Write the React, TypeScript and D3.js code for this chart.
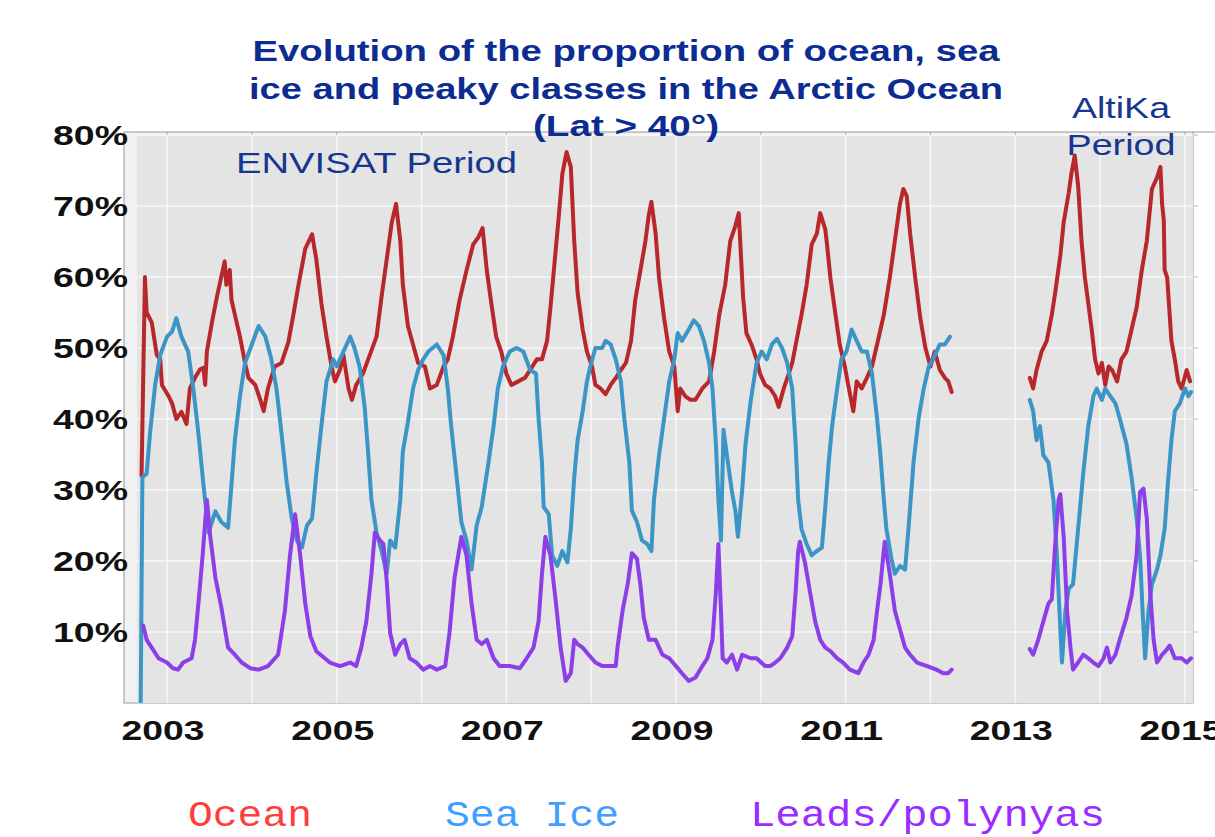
import React from 'react';
import * as d3 from 'd3';

// year (decimal) / percent
const oceanEnvisat: [number, number][] = [
  [2002.70, 32], [2002.74, 60], [2002.76, 55], [2002.82, 53.6], [2002.88, 49], [2002.92, 48.4], [2002.94, 44.8],
  [2003.02, 43.2], [2003.06, 42.2], [2003.11, 40], [2003.17, 41], [2003.23, 39.3], [2003.27, 44.3], [2003.33, 45.8],
  [2003.39, 47], [2003.43, 47.2], [2003.45, 44.8], [2003.47, 49.5], [2003.53, 53.6], [2003.59, 57.3], [2003.68, 62.2],
  [2003.70, 58.9], [2003.74, 61], [2003.76, 56.8], [2003.80, 54.7], [2003.86, 51.6], [2003.92, 47.9], [2003.96, 45.8],
  [2004.04, 44.8], [2004.10, 42.7], [2004.14, 41.1], [2004.19, 44.3], [2004.27, 47.4], [2004.35, 47.9], [2004.43, 50.8],
  [2004.49, 54.7], [2004.55, 58.9], [2004.63, 64], [2004.71, 66], [2004.76, 62.5], [2004.82, 56.3], [2004.88, 51.6],
  [2004.94, 47.4], [2004.98, 45.3], [2005.04, 47], [2005.08, 49], [2005.14, 44.3], [2005.18, 42.7], [2005.23, 44.8],
  [2005.31, 46.4], [2005.39, 49], [2005.47, 51.6], [2005.53, 57.3], [2005.59, 62.5], [2005.65, 67.7], [2005.70, 70.3],
  [2005.75, 65.1], [2005.78, 58.9], [2005.84, 53.1], [2005.90, 50.5], [2005.96, 47.9], [2006.04, 47.4], [2006.10, 44.3],
  [2006.18, 44.8], [2006.26, 47.4], [2006.31, 48.4], [2006.37, 51.6], [2006.45, 56.8], [2006.53, 60.9], [2006.61, 64.6],
  [2006.67, 65.6], [2006.72, 66.9], [2006.77, 60.9], [2006.83, 55.7], [2006.88, 51.6], [2006.94, 49.5], [2007.00, 46.4],
  [2007.06, 44.8], [2007.14, 45.3], [2007.22, 45.8], [2007.28, 46.9], [2007.36, 48.4], [2007.42, 48.4], [2007.48, 51],
  [2007.52, 55.7], [2007.56, 60.9], [2007.62, 68.8], [2007.66, 74.5], [2007.71, 77.6], [2007.76, 75.5], [2007.80, 65.1],
  [2007.84, 57.8], [2007.90, 52.6], [2007.95, 49.5], [2008.01, 47.4], [2008.05, 44.8], [2008.11, 44.3], [2008.17, 43.5],
  [2008.23, 44.8], [2008.29, 45.8], [2008.35, 46.9], [2008.41, 47.9], [2008.47, 51], [2008.52, 56.8], [2008.58, 60.9],
  [2008.64, 65.1], [2008.68, 68.8], [2008.71, 70.6], [2008.76, 66.1], [2008.80, 59.9], [2008.86, 54.2], [2008.92, 49.5],
  [2008.98, 47.4], [2009.02, 41.1], [2009.05, 44.3], [2009.11, 43.2], [2009.17, 42.7], [2009.23, 42.7], [2009.31, 44.3],
  [2009.39, 45.3], [2009.45, 49.5], [2009.51, 54.7], [2009.58, 58.9], [2009.64, 65.1], [2009.70, 67.2], [2009.74, 69],
  [2009.79, 57.3], [2009.83, 52.1], [2009.89, 50.5], [2009.95, 48.4], [2009.99, 46.4], [2010.05, 44.8], [2010.11, 44.3],
  [2010.17, 43.2], [2010.21, 41.7], [2010.27, 44.3], [2010.33, 46.4], [2010.37, 47.9], [2010.42, 51], [2010.48, 54.7],
  [2010.54, 58.9], [2010.60, 64.6], [2010.66, 66.1], [2010.70, 69], [2010.76, 66.7], [2010.78, 64.6], [2010.82, 59.9],
  [2010.88, 54.7], [2010.93, 50.5], [2010.99, 47.4], [2011.03, 44.8], [2011.09, 41.1], [2011.13, 45.3], [2011.19, 44.3],
  [2011.25, 45.8], [2011.31, 47.4], [2011.37, 50.5], [2011.45, 54.7], [2011.52, 59.9], [2011.58, 65.1], [2011.64, 70.3],
  [2011.68, 72.4], [2011.72, 71.4], [2011.76, 66.1], [2011.82, 59.9], [2011.88, 54.2], [2011.94, 50], [2012.00, 47.4],
  [2012.05, 49.5], [2012.11, 46.9], [2012.17, 45.8], [2012.21, 45.3], [2012.25, 43.8],
];

const oceanAltika: [number, number][] = [
  [2013.17, 45.8], [2013.21, 44.3], [2013.25, 46.9], [2013.31, 49.5], [2013.37, 51], [2013.43, 54.7], [2013.47, 57.8],
  [2013.53, 63], [2013.57, 67.7], [2013.63, 71.9], [2013.66, 74.5], [2013.70, 77.1], [2013.74, 72.9], [2013.78, 65.1],
  [2013.82, 59.9], [2013.86, 56.3], [2013.90, 52.6], [2013.94, 48.4], [2013.98, 46.4], [2014.02, 47.9], [2014.06, 44.8],
  [2014.10, 47.4], [2014.14, 46.9], [2014.20, 45.3], [2014.25, 48.4], [2014.31, 49.5], [2014.37, 52.6], [2014.43, 55.7],
  [2014.49, 60.9], [2014.55, 65.1], [2014.61, 72.4], [2014.67, 74], [2014.71, 75.5], [2014.73, 70.3], [2014.75, 68],
  [2014.76, 61], [2014.79, 59.9], [2014.84, 51], [2014.88, 48.4], [2014.92, 45.3], [2014.96, 44.3], [2015.02, 46.9],
  [2015.06, 45.3],
];

const seaIceEnvisat: [number, number][] = [
  [2002.69, 0], [2002.71, 31.8], [2002.76, 32.3], [2002.80, 38], [2002.86, 44.8], [2002.92, 49], [2003.00, 51.6],
  [2003.06, 52.3], [2003.11, 54.2], [2003.17, 51.6], [2003.25, 49.5], [2003.31, 44.3], [2003.37, 38], [2003.43, 30.7],
  [2003.49, 24], [2003.53, 25.5], [2003.57, 27], [2003.64, 25.5], [2003.72, 24.7], [2003.76, 30.7], [2003.80, 37],
  [2003.86, 43.2], [2003.92, 47.9], [2004.00, 50.5], [2004.08, 53.1], [2004.16, 51.6], [2004.23, 48.4], [2004.29, 44.3],
  [2004.35, 38], [2004.41, 31.2], [2004.47, 26], [2004.53, 22.9], [2004.59, 21.9], [2004.65, 25], [2004.71, 26],
  [2004.76, 32.3], [2004.82, 39], [2004.88, 45.3], [2004.96, 48.4], [2005.00, 47.4], [2005.08, 49.5], [2005.16, 51.6],
  [2005.21, 50], [2005.27, 47.4], [2005.33, 41.7], [2005.37, 35.4], [2005.41, 28.6], [2005.47, 24], [2005.53, 21.4],
  [2005.59, 18.2], [2005.63, 22.9], [2005.69, 21.9], [2005.75, 28.6], [2005.78, 35.4], [2005.84, 39.6], [2005.90, 44.3],
  [2005.96, 46.9], [2006.02, 48.4], [2006.08, 49.5], [2006.18, 50.5], [2006.26, 49], [2006.31, 44.3], [2006.35, 39],
  [2006.41, 32.3], [2006.47, 25.5], [2006.53, 22.9], [2006.59, 18.8], [2006.65, 25], [2006.71, 27.6], [2006.79, 33.9],
  [2006.85, 39], [2006.90, 44.3], [2006.96, 47.4], [2007.04, 49.5], [2007.12, 50], [2007.20, 49.5], [2007.28, 46.9],
  [2007.35, 46.4], [2007.38, 40.1], [2007.42, 33.9], [2007.44, 27.6], [2007.50, 26.6], [2007.54, 20.8], [2007.60, 19.3],
  [2007.66, 21.4], [2007.72, 19.8], [2007.76, 24.5], [2007.80, 31.8], [2007.84, 37], [2007.90, 41.1], [2007.95, 45.3],
  [2007.99, 47.4], [2008.05, 50], [2008.13, 50], [2008.17, 51], [2008.23, 50.5], [2008.29, 48.4], [2008.35, 45.3],
  [2008.39, 40.1], [2008.45, 33.9], [2008.48, 27.1], [2008.54, 25.5], [2008.60, 22.9], [2008.66, 22.4], [2008.71, 21.4],
  [2008.74, 28.6], [2008.80, 34.9], [2008.86, 40.1], [2008.92, 45.3], [2008.98, 48.4], [2009.02, 52.1], [2009.07, 51],
  [2009.15, 52.6], [2009.21, 53.9], [2009.27, 53.1], [2009.33, 51], [2009.39, 47.9], [2009.43, 44.3], [2009.47, 36.5],
  [2009.50, 28.6], [2009.53, 22.9], [2009.56, 38.5], [2009.60, 34.9], [2009.66, 29.7], [2009.70, 27.1], [2009.73, 23.4],
  [2009.78, 30], [2009.82, 36.5], [2009.88, 42.5], [2009.95, 47.9], [2010.01, 49.5], [2010.07, 48.4], [2010.13, 50.5],
  [2010.19, 51.3], [2010.25, 50], [2010.31, 47.9], [2010.37, 44.3], [2010.41, 36.5], [2010.44, 28.6], [2010.48, 24.5],
  [2010.54, 22.4], [2010.60, 20.8], [2010.66, 21.4], [2010.72, 21.9], [2010.76, 27.6], [2010.80, 33.9], [2010.84, 39],
  [2010.90, 44.3], [2010.95, 48.4], [2011.01, 49.5], [2011.07, 52.6], [2011.13, 51], [2011.19, 49.5], [2011.25, 49.5],
  [2011.31, 46.4], [2011.37, 40.1], [2011.41, 34.9], [2011.45, 28.6], [2011.48, 24.5], [2011.54, 20.3], [2011.58, 18.2],
  [2011.64, 19.3], [2011.70, 18.8], [2011.74, 24.5], [2011.80, 33.9], [2011.86, 40.1], [2011.92, 44.3], [2011.98, 47.4],
  [2012.03, 48.4], [2012.11, 50.5], [2012.17, 50.5], [2012.23, 51.6],
];

const seaIceAltika: [number, number][] = [
  [2013.17, 42.7], [2013.21, 41.1], [2013.25, 37], [2013.29, 39], [2013.33, 34.9], [2013.39, 33.9], [2013.45, 28.6],
  [2013.49, 20.8], [2013.52, 13], [2013.55, 5.7], [2013.59, 13], [2013.63, 16.1], [2013.68, 16.7], [2013.74, 24.5],
  [2013.80, 32.3], [2013.86, 39], [2013.92, 43.2], [2013.96, 44.3], [2014.02, 42.7], [2014.06, 44.3], [2014.12, 43.2],
  [2014.18, 42.2], [2014.23, 40.1], [2014.31, 36.5], [2014.37, 31.8], [2014.43, 26], [2014.47, 20.8], [2014.50, 13],
  [2014.53, 6.3], [2014.57, 13], [2014.61, 16.7], [2014.67, 18.8], [2014.71, 20.8], [2014.76, 24.5], [2014.80, 31.2],
  [2014.84, 37], [2014.88, 41.1], [2014.94, 42.2], [2015.00, 44.3], [2015.04, 43.2], [2015.07, 43.8],
];

const leadsEnvisat: [number, number][] = [
  [2002.72, 10.9], [2002.76, 8.9], [2002.82, 7.8], [2002.90, 6.3], [2003.00, 5.7], [2003.07, 4.9], [2003.13, 4.7],
  [2003.19, 5.7], [2003.29, 6.3], [2003.33, 8.9], [2003.37, 14], [2003.42, 20.8], [2003.47, 28.6], [2003.51, 23.4],
  [2003.57, 17.7], [2003.64, 13.5], [2003.72, 7.8], [2003.80, 6.8], [2003.88, 5.7], [2003.98, 4.9], [2004.08, 4.7],
  [2004.19, 5.2], [2004.31, 6.8], [2004.39, 13], [2004.45, 20.8], [2004.51, 26.6], [2004.57, 20.8], [2004.63, 14],
  [2004.69, 9.4], [2004.76, 7.3], [2004.86, 6.3], [2004.92, 5.7], [2005.04, 5.2], [2005.16, 5.7], [2005.23, 5.2],
  [2005.29, 7.8], [2005.35, 11.5], [2005.41, 18.2], [2005.45, 24], [2005.51, 22.9], [2005.55, 22.4], [2005.59, 17.2],
  [2005.63, 9.9], [2005.69, 6.8], [2005.75, 8.3], [2005.80, 8.9], [2005.86, 6.3], [2005.94, 5.7], [2006.02, 4.7],
  [2006.10, 5.2], [2006.18, 4.7], [2006.28, 5.2], [2006.33, 9.9], [2006.39, 17.7], [2006.47, 23.4], [2006.53, 20.8],
  [2006.59, 14], [2006.65, 8.9], [2006.71, 8.3], [2006.77, 8.9], [2006.85, 6.3], [2006.92, 5.2], [2007.04, 5.2],
  [2007.16, 4.9], [2007.24, 6.3], [2007.32, 7.8], [2007.38, 11.5], [2007.42, 18.2], [2007.46, 23.4], [2007.52, 20.8],
  [2007.58, 14.6], [2007.64, 7.8], [2007.70, 3.1], [2007.76, 4.2], [2007.80, 8.9], [2007.84, 8.3], [2007.90, 7.8],
  [2007.97, 6.8], [2008.05, 5.7], [2008.13, 5.2], [2008.23, 5.2], [2008.29, 5.2], [2008.31, 7.8], [2008.37, 13],
  [2008.43, 16.7], [2008.48, 21.1], [2008.54, 20.3], [2008.58, 16.7], [2008.62, 12], [2008.68, 8.9], [2008.76, 8.9],
  [2008.84, 6.8], [2008.92, 6.3], [2009.00, 5.2], [2009.07, 4.2], [2009.15, 3.1], [2009.23, 3.6], [2009.31, 5.2],
  [2009.37, 6.3], [2009.43, 8.9], [2009.47, 15.6], [2009.50, 22.4], [2009.53, 13], [2009.55, 6.3], [2009.60, 5.7],
  [2009.66, 6.8], [2009.72, 4.7], [2009.78, 6.8], [2009.88, 6.3], [2009.95, 6.3], [2010.05, 5.2], [2010.11, 5.2],
  [2010.17, 5.7], [2010.23, 6.3], [2010.31, 7.8], [2010.37, 9.4], [2010.41, 15.6], [2010.44, 21.4], [2010.46, 22.7],
  [2010.52, 19.8], [2010.58, 15.6], [2010.64, 11.5], [2010.70, 8.9], [2010.76, 7.8], [2010.82, 7.3], [2010.90, 6.3],
  [2010.97, 5.7], [2011.05, 4.7], [2011.15, 4.2], [2011.21, 5.7], [2011.27, 6.8], [2011.33, 8.9], [2011.37, 13],
  [2011.41, 16.7], [2011.46, 22.7], [2011.52, 18.2], [2011.58, 13], [2011.64, 10.4], [2011.70, 7.8], [2011.76, 6.8],
  [2011.84, 5.7], [2011.96, 5.2], [2012.07, 4.7], [2012.15, 4.2], [2012.21, 4.2], [2012.25, 4.7],
];

const leadsAltika: [number, number][] = [
  [2013.17, 7.6], [2013.21, 6.8], [2013.27, 8.9], [2013.33, 11.5], [2013.39, 14], [2013.43, 14.6], [2013.47, 22.4],
  [2013.51, 28.6], [2013.53, 29.4], [2013.57, 23.4], [2013.61, 13], [2013.65, 7.8], [2013.68, 4.7], [2013.74, 5.7],
  [2013.80, 6.8], [2013.86, 6.3], [2013.92, 5.7], [2013.98, 5.2], [2014.04, 6.3], [2014.08, 7.8], [2014.12, 5.7],
  [2014.18, 6.8], [2014.23, 8.9], [2014.31, 12], [2014.37, 15.1], [2014.43, 20.8], [2014.47, 29.7], [2014.51, 30.2],
  [2014.55, 26], [2014.59, 15.6], [2014.63, 8.9], [2014.67, 5.7], [2014.73, 6.8], [2014.77, 7.3], [2014.82, 8.1],
  [2014.88, 6.3], [2014.96, 6.3], [2015.02, 5.7], [2015.07, 6.3],
];

const yTicks = [10, 20, 30, 40, 50, 60, 70, 80];
const yearGrid = d3.range(2003, 2016);
const yearLabels = [2003, 2005, 2007, 2009, 2011, 2013, 2015];
const titleLines = [
  'Evolution of the proportion of ocean, sea',
  'ice and peaky classes in the Arctic Ocean',
  '(Lat > 40°)',
];
const titleWidths = [747, 754, 186];
const legendItems = [
  { name: 'Ocean', color: '#ff3d3d', x: 188, w: 124 },
  { name: 'Sea Ice', color: '#3f9eff', x: 445, w: 174 },
  { name: 'Leads/polynyas', color: '#9b2cff', x: 750, w: 355 },
];

const RED = '#b8272a';
const BLUE = '#3b95c6';
const PURPLE = '#8c3ee8';

export default function App() {
  const W = 1215;
  const H = 837;
  const frame = { left: 124, right: 1193, top: 132, bottom: 703 };

  const x = d3.scaleLinear().domain([2003, 2015]).range([167, 1185]);
  const y = d3.scaleLinear().domain([0, 80]).range([703, 135]);

  const line = d3.line<[number, number]>()
    .x(d => x(d[0]))
    .y(d => y(d[1]));

  const series = [
    { data: oceanEnvisat, color: RED },
    { data: oceanAltika, color: RED },
    { data: seaIceEnvisat, color: BLUE },
    { data: seaIceAltika, color: BLUE },
    { data: leadsEnvisat, color: PURPLE },
    { data: leadsAltika, color: PURPLE },
  ];

  const font = '"Liberation Sans", Arial, sans-serif';

  return (
    <svg width={W} height={H} style={{ position: 'absolute', left: 0, top: 0, background: '#fff' }}>
      <defs>
        <clipPath id="plotClip">
          <rect x={frame.left} y={frame.top} width={frame.right - frame.left} height={frame.bottom - frame.top} />
        </clipPath>
      </defs>

      {/* plot frame and background */}
      <rect x={frame.left} y={frame.top} width={frame.right - frame.left} height={frame.bottom - frame.top}
        fill="#f1f1f1" stroke="#a8a8a8" strokeWidth={1.2} />
      <rect x={137} y={136} width={frame.right - 137} height={frame.bottom - 136} fill="#e4e4e4" />
      <line x1={frame.right} x2={W} y1={frame.top} y2={frame.top} stroke="#a8a8a8" strokeWidth={1.2} />

      {/* grid */}
      {yearGrid.map(yr => (
        <g key={'gx' + yr}>
          <line x1={x(yr)} x2={x(yr)} y1={136} y2={frame.bottom} stroke="#f7f7f7" strokeWidth={1.5} />
          <line x1={x(yr)} x2={x(yr)} y1={frame.top} y2={frame.top + 4} stroke="#999" strokeWidth={1} />
        </g>
      ))}
      {yTicks.map(t => (
        <g key={'gy' + t}>
          <line x1={137} x2={frame.right} y1={y(t)} y2={y(t)} stroke="#f7f7f7" strokeWidth={1.5} />
          <line x1={frame.right} x2={frame.right + 5} y1={y(t)} y2={y(t)} stroke="#bbb" strokeWidth={1} />
        </g>
      ))}

      {/* series */}
      <g clipPath="url(#plotClip)">
        {series.map((s, i) => (
          <path key={i} d={line(s.data) || ''} fill="none" stroke={s.color} strokeWidth={4}
            strokeLinejoin="round" strokeLinecap="round" />
        ))}
      </g>

      {/* y tick labels */}
      {yTicks.map(t => (
        <text key={'yl' + t} x={128} y={y(t) + 10} textAnchor="end" fontFamily={font} fontWeight="bold"
          fontSize={27} fill="#111" textLength={75} lengthAdjust="spacingAndGlyphs">{t}%</text>
      ))}

      {/* x tick labels */}
      {yearLabels.map(yr => (
        <text key={'xl' + yr} x={x(yr) - 4} y={740} textAnchor="middle" fontFamily={font} fontWeight="bold"
          fontSize={28} fill="#111" textLength={83} lengthAdjust="spacingAndGlyphs">{yr}</text>
      ))}

      {/* title */}
      {titleLines.map((t, i) => (
        <text key={'t' + i} x={626} y={61 + i * 37.5} textAnchor="middle" fontFamily={font} fontWeight="bold"
          fontSize={30} fill="#0c2c92" textLength={titleWidths[i]} lengthAdjust="spacingAndGlyphs">{t}</text>
      ))}

      {/* period annotations */}
      <text x={236} y={173} fontFamily={font} fontSize={29} fill="#17368f" textLength={281}
        lengthAdjust="spacingAndGlyphs">ENVISAT Period</text>
      <text x={1121} y={118} textAnchor="middle" fontFamily={font} fontSize={29} fill="#17368f" textLength={98}
        lengthAdjust="spacingAndGlyphs">AltiKa</text>
      <text x={1121} y={155} textAnchor="middle" fontFamily={font} fontSize={29} fill="#17368f" textLength={109}
        lengthAdjust="spacingAndGlyphs">Period</text>

      {/* legend */}
      {legendItems.map(l => (
        <text key={l.name} x={l.x} y={826} fontFamily='"Liberation Mono", "Courier New", monospace' fontSize={37}
          fill={l.color} textLength={l.w} lengthAdjust="spacingAndGlyphs">{l.name}</text>
      ))}
    </svg>
  );
}
